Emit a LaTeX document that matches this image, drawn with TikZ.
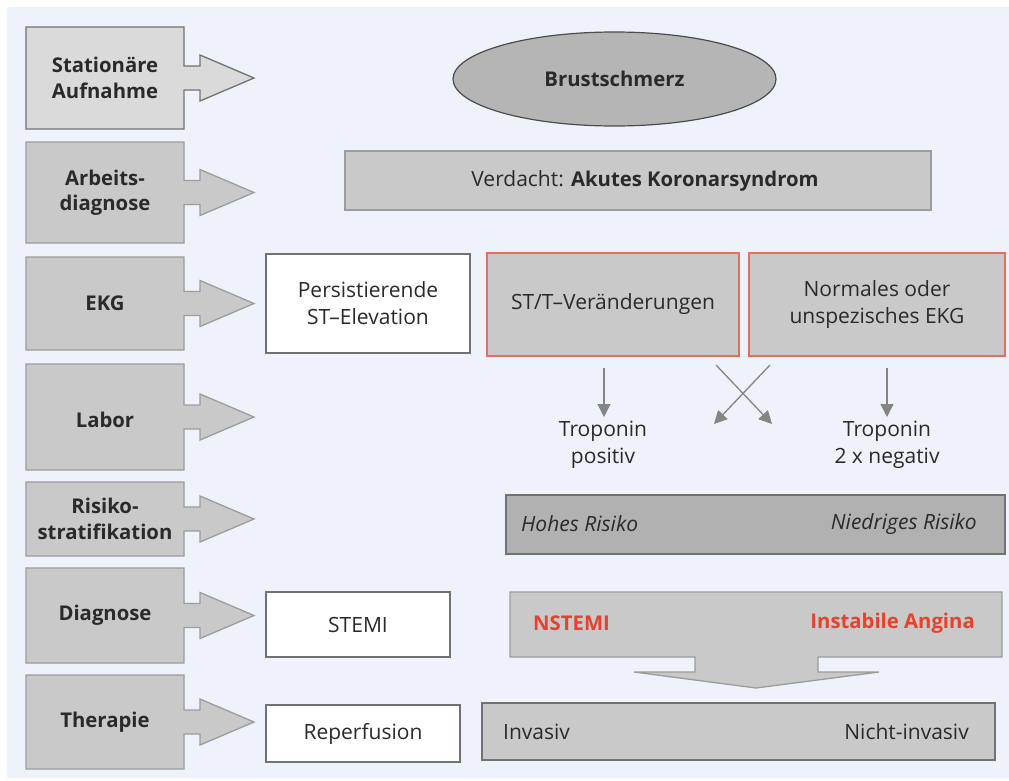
\documentclass[tikz,border=0pt]{standalone}
\usepackage{fontspec}
\setmainfont{Open Sans}
\usetikzlibrary{arrows.meta,shapes.geometric}
\definecolor{bg}{HTML}{EEF2FA}
\definecolor{boxfill}{HTML}{C9C9C9}
\definecolor{boxline}{HTML}{9C9C9C}
\definecolor{lightfill}{HTML}{DADADA}
\definecolor{darkline}{HTML}{727272}
\definecolor{redline}{HTML}{E2705F}
\definecolor{redtext}{HTML}{E8412C}
\definecolor{txt}{HTML}{2A2A2A}
\definecolor{arrowgray}{HTML}{858585}
\newcommand{\regsize}{\fontsize{21}{27}\selectfont}
\newcommand{\boldsize}{\fontsize{20.3}{25.5}\selectfont\bfseries}
\tikzset{
  stagebox/.style={fill=boxfill, draw=boxline, line width=1.3pt, line join=miter},
  stagelabel/.style={font=\boldsize, text=txt, align=center, inner sep=0pt},
  whitebox/.style={fill=white, draw=darkline, line width=1.3pt, font=\regsize, text=txt, align=center},
  graybox/.style={fill=boxfill, draw=boxline, line width=1.3pt},
  redbox/.style={fill=boxfill, draw=redline, line width=1.5pt, font=\regsize, text=txt, align=center},
  plaintext/.style={font=\regsize, text=txt, align=center, inner sep=0pt},
  thinarrow/.style={draw=arrowgray, line width=1.3pt, -{Triangle[width=13pt,length=13pt]}},
}
\newcommand{\stagearrow}[3]{%
  \path[stagebox,#3] (26,#1) -- (184,#1) -- (184,{(#1+#2)/2-12}) -- (200,{(#1+#2)/2-12}) -- (200,{(#1+#2)/2-23})
    -- (254,{(#1+#2)/2}) -- (200,{(#1+#2)/2+23}) -- (200,{(#1+#2)/2+12}) -- (184,{(#1+#2)/2+12})
    -- (184,#2) -- (26,#2) -- cycle;}
\begin{document}
\begin{tikzpicture}[x=1pt,y=-1pt]
\useasboundingbox (0,0) rectangle (1009,780);
\fill[white] (0,0) rectangle (1009,780);
\fill[bg] (7,7) rectangle (1009,778);

% left stage boxes with arrows
\stagearrow{27}{129}{fill=lightfill,draw=darkline}
\node[stagelabel] (s1) at (105,78) {Stationäre\\Aufnahme};
\stagearrow{142}{243}{}
\node[stagelabel] (s2) at (105,192.5) {Arbeits-\\diagnose};
\stagearrow{257}{350}{}
\node[stagelabel] (s3) at (105,303.5) {EKG};
\stagearrow{364}{470}{}
\node[stagelabel] (s4) at (105,420) {Labor};
\stagearrow{482}{556}{}
\node[stagelabel] (s5) at (105,519) {Risiko-\\stratifikation};
\stagearrow{568}{663}{}
\node[stagelabel] (s6) at (105,615.5) {Diagnose};
\stagearrow{675}{769}{}
\node[stagelabel] (s7) at (105,722) {Therapie};

% Brustschmerz
\node[ellipse, fill=boxfill!90!black, draw=black!70, line width=1.2pt, minimum width=323pt, minimum height=94pt,
  font=\boldsize, text=txt] (brust) at (614.5,79) {Brustschmerz};

% Verdacht
\draw[graybox] (345,151) rectangle (931,210);
\node[plaintext] (verdacht) at (645,180.5) {Verdacht: \textbf{\fontsize{20.3}{25}\selectfont Akutes Koronarsyndrom}};

% EKG row
\node[whitebox, minimum width=204pt, minimum height=99pt, inner sep=0pt] (stelev) at (368,303.5) {Persistierende\\ST–Elevation};
\node[redbox, minimum width=252pt, minimum height=103pt, inner sep=0pt] (stt) at (613,304.5) {ST/T–Veränderungen};
\node[redbox, minimum width=256pt, minimum height=103pt, inner sep=0pt] (normal) at (877,304.5) {Normales oder\\unspezisches EKG};

% Labor
\node[plaintext] (tpos) at (603,444.5) {Troponin\\positiv};
\node[plaintext] (tneg) at (887,444.5) {Troponin\\2 x negativ};
\coordinate (a1s) at (604,368);
\coordinate (a1e) at (604,417);
\coordinate (a2s) at (887,368);
\coordinate (a2e) at (887,417);
\coordinate (c1s) at (716,365);
\coordinate (c1e) at (772,424);
\coordinate (c2s) at (770,365);
\coordinate (c2e) at (714,424);
\draw[thinarrow] (a1s) -- (a1e);
\draw[thinarrow] (a2s) -- (a2e);
\draw[thinarrow] (c1s) -- (c1e);
\draw[thinarrow] (c2s) -- (c2e);

% Risiko
\draw[fill=boxfill!88!black, draw=darkline, line width=1.3pt] (506,495) rectangle (1005,554);
\node[plaintext, font=\regsize\itshape, anchor=west] (hoch) at (521,524) {Hohes Risiko};
\node[plaintext, font=\regsize\itshape, anchor=east] (niedrig) at (977,524) {Niedriges Risiko};

% Diagnose
\node[whitebox, minimum width=184pt, minimum height=65pt, inner sep=0pt] (stemi) at (358,624.5) {STEMI};
\path[graybox] (510,592) -- (1002,592) -- (1002,657) -- (818,657) -- (818,672) -- (879,672) -- (756,688)
  -- (634,672) -- (695,672) -- (695,657) -- (510,657) -- cycle;
\node[plaintext, font=\boldsize, text=redtext, anchor=west] (nstemi) at (533,623) {NSTEMI};
\node[plaintext, font=\boldsize, text=redtext, anchor=east] (angina) at (975,623) {Instabile Angina};

% Therapie
\node[whitebox, minimum width=194pt, minimum height=57pt, inner sep=0pt] (reperf) at (363,733.5) {Reperfusion};
\draw[graybox, draw=darkline] (482,703) rectangle (995,760);
\node[plaintext, anchor=west] (inv) at (503,732) {Invasiv};
\node[plaintext, anchor=east] (ninv) at (969,732) {Nicht-invasiv};
\end{tikzpicture}
\end{document}
